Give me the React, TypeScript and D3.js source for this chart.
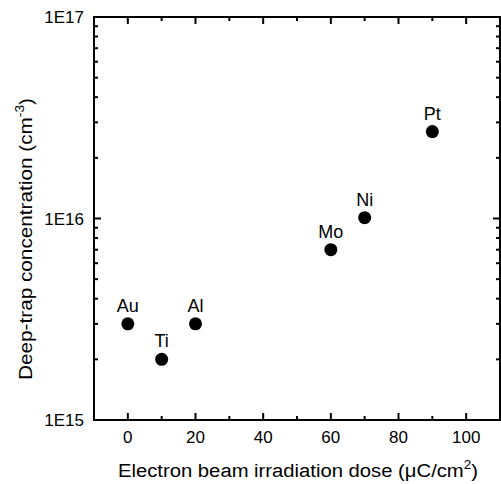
import React from "react";
import * as d3 from "d3";

const metals = ["Au", "Ti", "Al", "Mo", "Ni", "Pt"];
const doses = [0, 10, 20, 60, 70, 90];
const concentrations = [3e15, 2e15, 3e15, 7e15, 1.01e16, 2.7e16];
const xTickValues = [0, 20, 40, 60, 80, 100];
const xMinorValues = [-10, 10, 30, 50, 70, 90, 110];
const yTickValues = [1e15, 1e16, 1e17];
const yTickLabels = ["1E15", "1E16", "1E17"];

export default function App() {
  const W = 501, H = 484;
  const left = 94, right = 500, top = 17, bottom = 420;
  const x = d3.scaleLinear().domain([-10, 110]).range([left, right]);
  const y = d3.scaleLog().domain([1e15, 1e17]).range([bottom, top]);
  const yMinor: number[] = [];
  [1e15, 1e16].forEach((d) => {
    for (let k = 2; k <= 9; k++) yMinor.push(d * k);
  });
  const font = "Arial, 'Liberation Sans', sans-serif";
  const majorLen = 7, minorLen = 4;
  return (
    <svg width={W} height={H} style={{ position: "absolute", left: 0, top: 0, background: "#fff" }} fontFamily={font}>
      <rect x={0} y={0} width={W} height={H} fill="#fff" />
      <g stroke="#000" strokeWidth={2}>
        {xTickValues.map((v) => (
          <g key={"xt" + v}>
            <line x1={x(v)} x2={x(v)} y1={bottom} y2={bottom - majorLen} />
            <line x1={x(v)} x2={x(v)} y1={top} y2={top + majorLen} />
          </g>
        ))}
        {xMinorValues.map((v) => (
          <g key={"xm" + v}>
            <line x1={x(v)} x2={x(v)} y1={bottom} y2={bottom - minorLen} />
            <line x1={x(v)} x2={x(v)} y1={top} y2={top + minorLen} />
          </g>
        ))}
        {yTickValues.map((v) => (
          <g key={"yt" + v}>
            <line x1={left} x2={left + majorLen} y1={y(v)} y2={y(v)} />
            <line x1={right} x2={right - majorLen} y1={y(v)} y2={y(v)} />
          </g>
        ))}
        {yMinor.map((v) => (
          <g key={"ym" + v}>
            <line x1={left} x2={left + minorLen} y1={y(v)} y2={y(v)} />
            <line x1={right} x2={right - minorLen} y1={y(v)} y2={y(v)} />
          </g>
        ))}
      </g>
      <rect x={left} y={top} width={right - left} height={bottom - top} fill="none" stroke="#000" strokeWidth={2} />
      <g fontSize={17} fill="#000">
        {xTickValues.map((v) => (
          <text key={"xl" + v} x={x(v)} y={443} textAnchor="middle">{v}</text>
        ))}
        {yTickValues.map((v, i) => (
          <text key={"yl" + v} x={84} y={y(v) + 6} textAnchor="end">{yTickLabels[i]}</text>
        ))}
      </g>
      {doses.map((d, i) => (
        <g key={metals[i]}>
          <circle cx={x(d)} cy={y(concentrations[i])} r={6.5} fill="#000" />
          <text x={x(d)} y={y(concentrations[i]) - 12} textAnchor="middle" fontSize={18} fill="#000">{metals[i]}</text>
        </g>
      ))}
      <text x={118} y={477} fontSize={18} fill="#000" textLength={360} lengthAdjust="spacingAndGlyphs">
        Electron beam irradiation dose (μC/cm<tspan dy={-8} fontSize={12}>2</tspan><tspan dy={8}>)</tspan>
      </text>
      <text transform={`translate(32, 380) rotate(-90)`} fontSize={18} fill="#000" textLength={282} lengthAdjust="spacingAndGlyphs">
        Deep-trap concentration (cm<tspan dy={-8} fontSize={12}>-3</tspan><tspan dy={8}>)</tspan>
      </text>
    </svg>
  );
}
